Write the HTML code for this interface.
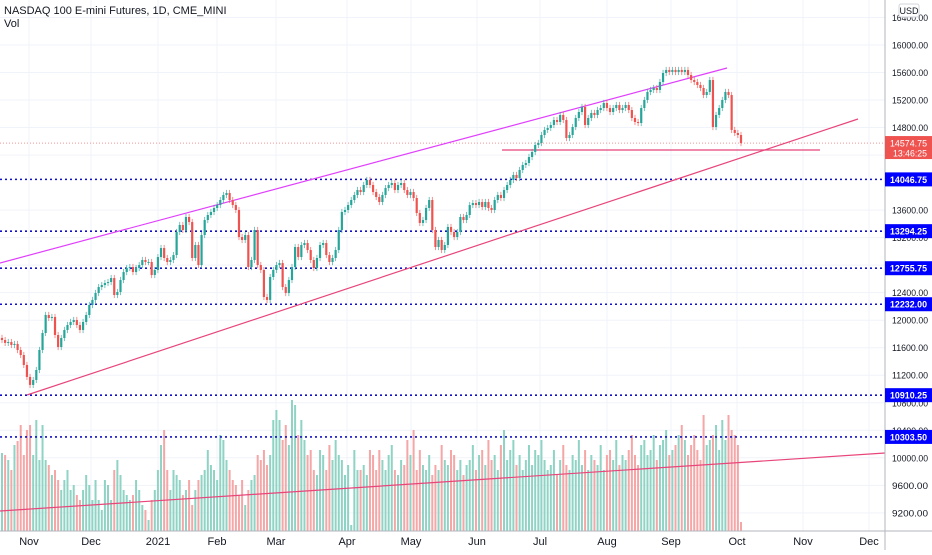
<!DOCTYPE html>
<html><head><meta charset="utf-8"><style>
body{margin:0;background:#fff;font-family:"Liberation Sans",sans-serif}
svg text{font-family:"Liberation Sans",sans-serif}
</style></head><body>
<svg id="c" width="932" height="550" xmlns="http://www.w3.org/2000/svg">
<rect width="932" height="550" fill="#fff"/>
<g id="grid"></g>
<g id="vol"></g>
<g id="lines"></g>
<g id="candles"></g>
<g id="axis"></g>
<text x="4" y="14" font-size="11" fill="#131722">NASDAQ 100 E-mini Futures, 1D, CME_MINI</text>
<text x="4" y="27" font-size="11" fill="#131722">Vol</text>
</svg>
<script>
const closes=[11712,11670,11683,11640,11655,11567,11494,11349,11175,11059,11131,11276,11567,11814,12076,12032,12047,11785,11610,11741,11858,11930,11974,12003,11930,11858,11974,12076,12221,12294,12395,12482,12511,12540,12555,12613,12366,12410,12584,12700,12758,12773,12700,12758,12802,12875,12846,12846,12657,12730,12918,13049,12904,12846,12875,12947,13282,13384,13311,13500,13427,12904,13093,12802,13238,13456,13529,13573,13631,13674,13747,13820,13849,13747,13674,13602,13209,13166,13238,12773,12875,13311,12802,12730,12337,12294,12628,12730,12802,12831,12482,12395,12584,12773,13064,12918,13093,13122,13020,12875,12758,12904,13093,13122,12947,12846,12904,13020,13311,13573,13602,13674,13747,13820,13892,13863,13965,14038,13965,13863,13791,13718,13820,13921,13965,13994,13892,13965,13994,13892,13820,13863,13776,13558,13413,13456,13631,13747,13311,13064,13166,13020,13093,13355,13282,13209,13282,13500,13456,13529,13674,13703,13674,13718,13645,13718,13631,13602,13747,13820,13776,13892,13965,14038,14111,14067,14183,14256,14285,14372,14445,14547,14576,14692,14765,14794,14837,14910,14881,14983,14910,14648,14692,14808,14939,15026,15099,14837,14939,15012,14983,15055,15084,15157,15084,15026,15084,15128,15055,15084,15128,15055,14939,14881,14866,15084,15201,15317,15346,15375,15346,15462,15593,15637,15608,15637,15608,15637,15608,15637,15564,15491,15462,15419,15375,15273,15317,15491,14808,14983,15084,15201,15317,15273,14765,14721,14692,14575];
const volumes=[78,76,71,61,86,90,106,76,101,106,76,111,71,106,71,66,56,61,51,41,51,61,41,46,36,31,41,56,46,31,51,31,21,51,46,31,61,71,56,41,36,31,36,51,41,26,21,11,31,41,61,86,101,61,41,61,56,51,36,41,51,26,41,51,56,61,81,66,61,51,96,91,71,61,51,46,36,51,26,41,51,56,76,71,81,66,76,111,121,111,91,106,86,131,126,96,111,91,76,81,61,56,81,76,61,86,71,91,76,71,56,66,6,81,61,61,66,56,81,76,61,81,71,61,76,86,61,56,71,66,91,76,101,61,81,66,61,76,56,66,61,86,71,66,81,76,61,71,56,66,71,86,61,76,81,66,91,71,76,61,86,101,71,81,91,66,76,61,71,86,66,81,76,91,71,61,66,81,56,71,86,66,61,76,71,91,66,81,61,76,71,66,86,61,76,81,71,91,66,76,71,81,96,76,66,86,91,76,81,96,71,86,91,101,76,81,86,96,106,91,76,86,96,81,71,116,86,91,96,106,81,111,91,116,101,96,86,9];
const priceTicks=[16400,16000,15600,15200,14800,14400,13600,13200,12800,12400,12000,11600,11200,10800,10400,10000,9600,9200];
const levelPrices=[14046.75,13294.25,12755.75,12232.00,10910.25,10303.50];
const monthLabels=["Nov","Dec","2021","Feb","Mar","Apr","May","Jun","Jul","Aug","Sep","Oct","Nov","Dec"];
const monthX=[29,91,158,217,276,347,411,477,540,607,671,737,803,869];
const lastPrice=14574.75;

const NS="http://www.w3.org/2000/svg";
function el(t,a,p){const e=document.createElementNS(NS,t);for(const k in a)e.setAttribute(k,a[k]);p.appendChild(e);return e;}
const yP=v=>45+(16000-v)*0.0688;
const n=closes.length;
const xB=i=>2+i*(739/(n-1));
const yV=v=>531-v;
const G=document.getElementById('grid'),V=document.getElementById('vol'),L=document.getElementById('lines'),C=document.getElementById('candles'),A=document.getElementById('axis');
priceTicks.forEach(t=>{const g=el('line',{x1:0,x2:885,y1:yP(t),y2:yP(t),stroke:'#f0f3fa'},G);

});
monthX.forEach(x=>{const g=el('line',{x1:x,x2:x,y1:0,y2:531,stroke:'#f0f3fa'},G);

});
const nv=Math.min(n,volumes.length);
for(let i=0;i<nv;i++){const up=i==0||closes[i]>=closes[i-1];
const r=el('rect',{x:xB(i)-1,y:yV(volumes[i]),width:2,height:volumes[i],fill:up?'#8fd3c4':'#f5a6a6'},V);

}
for(let i=0;i<n;i++){const o=i==0?closes[0]+30:closes[i-1],c=closes[i],up=c>=o;
const col=up?'#26a69a':'#ef5350';const hi=Math.max(o,c)+45,lo=Math.min(o,c)-45;
const w=el('line',{x1:xB(i),x2:xB(i),y1:yP(hi),y2:yP(lo),stroke:col,'stroke-width':0.8,opacity:0.8},C);


const top=yP(Math.max(o,c)),h=Math.max(1,yP(Math.min(o,c))-top);
const b=el('rect',{x:xB(i)-1.1,y:top,width:2.2,height:h,fill:col},C);

}
function ln(a,name){const e=el('line',a,L);return e;}
levelPrices.forEach(p=>ln({x1:0,x2:885,y1:yP(p),y2:yP(p),stroke:'#1010c8','stroke-width':1.6,'stroke-dasharray':'2,3'},'support-level-line'));
ln({x1:0,x2:885,y1:yP(lastPrice),y2:yP(lastPrice),stroke:'#ef5350','stroke-width':0.7,'stroke-dasharray':'1,2'},'last-price-line');
ln({x1:0,y1:263,x2:727,y2:68,stroke:'#e040fb','stroke-width':1.2},'upper-channel-line');
ln({x1:27,y1:395,x2:858,y2:119,stroke:'#e8457a','stroke-width':1.2},'lower-channel-line');
ln({x1:502,y1:150,x2:820,y2:150,stroke:'#e8457a','stroke-width':1.2},'horizontal-support-line');
ln({x1:0,y1:511,x2:885,y2:453,stroke:'#e8457a','stroke-width':1.2},'volume-trend-line');
el('rect',{x:885,y:0,width:47,height:550,fill:'#fff'},A);
el('line',{x1:885,x2:885,y1:0,y2:550,stroke:'#b2b5be'},A);
el('line',{x1:0,x2:932,y1:531,y2:531,stroke:'#b2b5be'},A);
priceTicks.forEach(t=>{const tx=el('text',{x:892,y:yP(t)+3.5,'font-size':9.5,fill:'#131722',textLength:36,lengthAdjust:'spacingAndGlyphs'},A);tx.textContent=t.toFixed(2);

});
monthLabels.forEach((m,i)=>{const tx=el('text',{x:monthX[i],y:545,'font-size':11,fill:'#131722','text-anchor':'middle'},A);tx.textContent=m;

});
levelPrices.forEach(p=>{const g=el('g',{},A);
el('rect',{x:885,y:yP(p)-7,width:47,height:14,fill:'#0000ff'},g);
const tx=el('text',{x:890,y:yP(p)+3.5,'font-size':9.5,fill:'#fff','font-weight':'bold',textLength:37,lengthAdjust:'spacingAndGlyphs'},g);tx.textContent=p.toFixed(2);});
const lg=el('g',{},A);
el('rect',{x:885,y:yP(lastPrice)-7,width:47,height:23,fill:'#ef5350'},lg);
const t1=el('text',{x:890,y:yP(lastPrice)+3.5,'font-size':9.5,fill:'#fff',textLength:37,lengthAdjust:'spacingAndGlyphs'},lg);t1.textContent=lastPrice.toFixed(2);
const t2=el('text',{x:893,y:yP(lastPrice)+13.5,'font-size':9.5,fill:'#fff',textLength:34,lengthAdjust:'spacingAndGlyphs'},lg);t2.textContent='13:46:25';
const ub=el('g',{},A);
el('rect',{x:899,y:4,width:20,height:13,rx:2,fill:'#fff',stroke:'#d1d4dc'},ub);
const ut=el('text',{x:909,y:14,'font-size':9,fill:'#131722','text-anchor':'middle'},ub);ut.textContent='USD';
</script>
</body></html>
